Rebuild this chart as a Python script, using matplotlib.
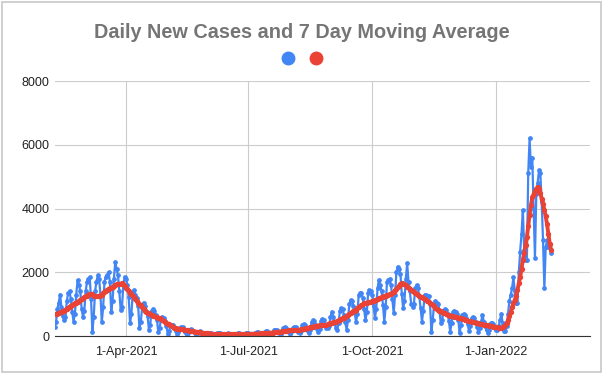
import matplotlib
matplotlib.use('Agg')
import matplotlib.pyplot as plt
from matplotlib.lines import Line2D
from matplotlib.patches import Rectangle
import pandas as pd

# daily data, one row per week (Sun..Sat), starting 7-Feb-2021
start_date = '2021-02-07'

daily_cases = [
    290, 450, 850, 1050, 1300, 900, 620,
    500, 600, 1100, 1350, 1400, 1150, 760,
    450, 700, 1300, 1750, 1600, 1400, 850,
    600, 800, 1400, 1700, 1800, 1850, 1160,
    140, 600, 1400, 1700, 1900, 1800, 1280,
    450, 900, 1700, 1850, 1900, 2000, 1700,
    760, 1100, 1800, 2330, 2100, 1900, 1420,
    820, 900, 1600, 1860, 1800, 1600, 1220,
    400, 700, 1350, 1450, 1300, 1200, 950,
    250, 450, 900, 1050, 950, 800, 640,
    200, 350, 800, 850, 780, 650, 500,
    120, 250, 550, 600, 560, 470, 320,
    60, 150, 330, 360, 340, 270, 170,
    50, 120, 260, 290, 270, 210, 130,
    40, 90, 190, 210, 200, 150, 100,
    25, 60, 130, 145, 135, 100, 70,
    20, 40, 85, 100, 95, 70, 45,
    15, 35, 80, 95, 90, 65, 40,
    15, 30, 70, 80, 75, 55, 39,
    15, 35, 75, 85, 80, 55, 40,
    20, 40, 85, 100, 95, 70, 45,
    25, 50, 105, 120, 115, 85, 60,
    30, 60, 135, 155, 145, 105, 70,
    40, 80, 175, 200, 190, 135, 90,
    50, 110, 240, 270, 255, 180, 120,
    60, 120, 260, 290, 270, 200, 130,
    80, 160, 340, 380, 360, 260, 170,
    100, 200, 440, 500, 460, 330, 210,
    110, 220, 480, 540, 500, 360, 240,
    240, 300, 600, 760, 600, 400, 250,
    190, 400, 800, 870, 850, 650, 440,
    190, 500, 1000, 1130, 1100, 950, 730,
    450, 700, 1300, 1340, 1350, 1200, 835,
    500, 750, 1350, 1450, 1400, 1300, 950,
    550, 850, 1500, 1760, 1600, 1400, 980,
    450, 900, 1700, 1750, 1800, 1600, 1170,
    710, 1300, 2000, 2180, 2100, 1950, 1320,
    870, 1100, 1800, 2280, 1700, 1400, 1000,
    920, 1000, 1500, 1600, 1500, 1250, 870,
    450, 800, 1300, 1300, 1250, 1250, 1000,
    140, 500, 1000, 1100, 1050, 1000, 810,
    400, 500, 800, 850, 820, 700, 480,
    140, 400, 750, 800, 760, 700, 510,
    90, 350, 650, 700, 650, 550, 370,
    150, 300, 550, 600, 560, 430, 280,
    130, 250, 450, 660, 450, 300, 175,
    100, 200, 400, 420, 380, 250, 175,
    190, 300, 500, 700, 400, 160, 150,
    300, 700, 1100, 1300, 1500, 1850, 1400,
    1050, 1050, 2000, 2650, 3200, 3950, 2700,
    2400, 2400, 5100, 6200, 5300, 5600, 4000,
    2450, 4450, 4800, 5200, 5100, 4200, 3000,
    1500, 2800, 3000, 2800, 2900, 2600,
]

moving_avg = [
    680, 690, 700, 720, 740, 760, 780,
    800, 830, 860, 890, 920, 950, 980,
    1000, 1020, 1050, 1080, 1100, 1130, 1150,
    1180, 1210, 1240, 1270, 1300, 1320, 1330,
    1310, 1260, 1240, 1240, 1250, 1250, 1260,
    1300, 1350, 1390, 1420, 1450, 1480, 1500,
    1520, 1540, 1560, 1610, 1620, 1620, 1630,
    1640, 1650, 1620, 1560, 1510, 1470, 1400,
    1340, 1310, 1270, 1220, 1170, 1110, 1050,
    1000, 960, 900, 850, 800, 760, 720,
    710, 690, 670, 640, 620, 600, 590,
    570, 550, 520, 490, 460, 430, 410,
    390, 370, 340, 310, 280, 260, 240,
    235, 230, 220, 210, 205, 195, 190,
    185, 180, 170, 160, 155, 145, 140,
    135, 130, 120, 115, 105, 100, 95,
    92, 88, 82, 78, 72, 68, 65,
    64, 63, 62, 62, 61, 60, 60,
    59, 58, 57, 55, 54, 53, 52,
    52, 52, 53, 53, 54, 54, 55,
    56, 58, 59, 61, 62, 64, 65,
    67, 69, 71, 74, 76, 78, 80,
    82, 85, 88, 91, 94, 97, 100,
    104, 108, 113, 117, 121, 126, 130,
    136, 143, 150, 157, 163, 169, 175,
    177, 179, 181, 184, 186, 188, 190,
    198, 206, 215, 224, 233, 242, 250,
    260, 270, 280, 290, 300, 310, 320,
    325, 330, 335, 338, 342, 346, 350,
    365, 380, 395, 410, 425, 440, 450,
    470, 490, 515, 540, 560, 580, 600,
    630, 660, 690, 720, 750, 775, 800,
    830, 865, 900, 935, 965, 995, 1025,
    1035, 1045, 1055, 1065, 1075, 1090, 1100,
    1120, 1140, 1160, 1180, 1200, 1220, 1234,
    1250, 1265, 1280, 1295, 1310, 1325, 1338,
    1380, 1430, 1480, 1530, 1580, 1620, 1652,
    1640, 1620, 1590, 1550, 1520, 1480, 1450,
    1420, 1390, 1360, 1330, 1300, 1270, 1234,
    1210, 1180, 1150, 1120, 1100, 1070, 1050,
    1010, 970, 930, 890, 860, 830, 800,
    780, 760, 730, 710, 690, 670, 650,
    640, 630, 620, 610, 600, 590, 580,
    565, 550, 535, 520, 505, 490, 480,
    470, 460, 450, 440, 430, 420, 410,
    400, 390, 380, 370, 360, 352, 345,
    335, 325, 315, 305, 295, 285, 275,
    270, 265, 260, 262, 270, 300, 340,
    400, 500, 620, 750, 900, 1030, 1130,
    1250, 1450, 1650, 1850, 2100, 2400, 2600,
    2850, 3100, 3450, 3800, 4100, 4350, 4450,
    4550, 4620, 4680, 4600, 4480, 4300, 4150,
    3950, 3750, 3500, 3200, 2900, 2700,
]

tick_dates = ['2021-04-01', '2021-07-01', '2021-10-01', '2022-01-01']
tick_labels = ['1-Apr-2021', '1-Jul-2021', '1-Oct-2021', '1-Jan-2022']
y_ticks = [0, 2000, 4000, 6000, 8000]

dates = pd.date_range(start_date, periods=len(daily_cases), freq='D')

plt.rcParams['font.family'] = ['Liberation Sans', 'DejaVu Sans']

fig = plt.figure(figsize=(6.03, 3.74), dpi=100)
ax = fig.add_axes([0.0912, 0.1016, 0.8872, 0.6818])

ax.plot(dates, daily_cases, color='#4285F4', lw=1.6, marker='o', ms=2.4)
ax.plot(dates, moving_avg, color='#EA4335', lw=2.8, marker='o', ms=2.8)

ax.set_ylim(0, 8000)
ax.set_xlim(pd.Timestamp('2021-04-01') - pd.Timedelta(days=52.8),
            pd.Timestamp('2022-01-01') + pd.Timedelta(days=69.9))
ax.set_yticks(y_ticks)
ax.set_xticks(pd.to_datetime(tick_dates))
ax.set_xticklabels(tick_labels)
ax.grid(True, color='#cccccc', lw=0.8)
ax.set_axisbelow(True)
for s in ['top', 'right', 'left']:
    ax.spines[s].set_visible(False)
ax.spines['bottom'].set_color('#333333')
ax.tick_params(length=0, labelsize=9, colors='#222222')
ax.tick_params(axis='x', pad=7)
ax.tick_params(axis='y', pad=4)

fig.text(0.5, 0.912, 'Daily New Cases and 7 Day Moving Average',
         ha='center', va='center', fontsize=14.3, fontweight='bold', color='#757575')

handles = [Line2D([], [], ls='none', marker='o', ms=9, color='#4285F4'),
           Line2D([], [], ls='none', marker='o', ms=9, color='#EA4335')]
ax.legend(handles=handles, labels=['', ''], ncol=2, loc='center',
          bbox_to_anchor=(302 / 603, 1 - 59 / 374), bbox_transform=fig.transFigure,
          frameon=False, handlelength=0.8, handletextpad=0, columnspacing=1.2,
          borderpad=0)

fig.patches.append(Rectangle((0.003, 0.005), 0.994, 0.99, transform=fig.transFigure,
                             fill=False, edgecolor='#c8c8c8', lw=1.2))

fig.savefig('out.png', dpi=100)
